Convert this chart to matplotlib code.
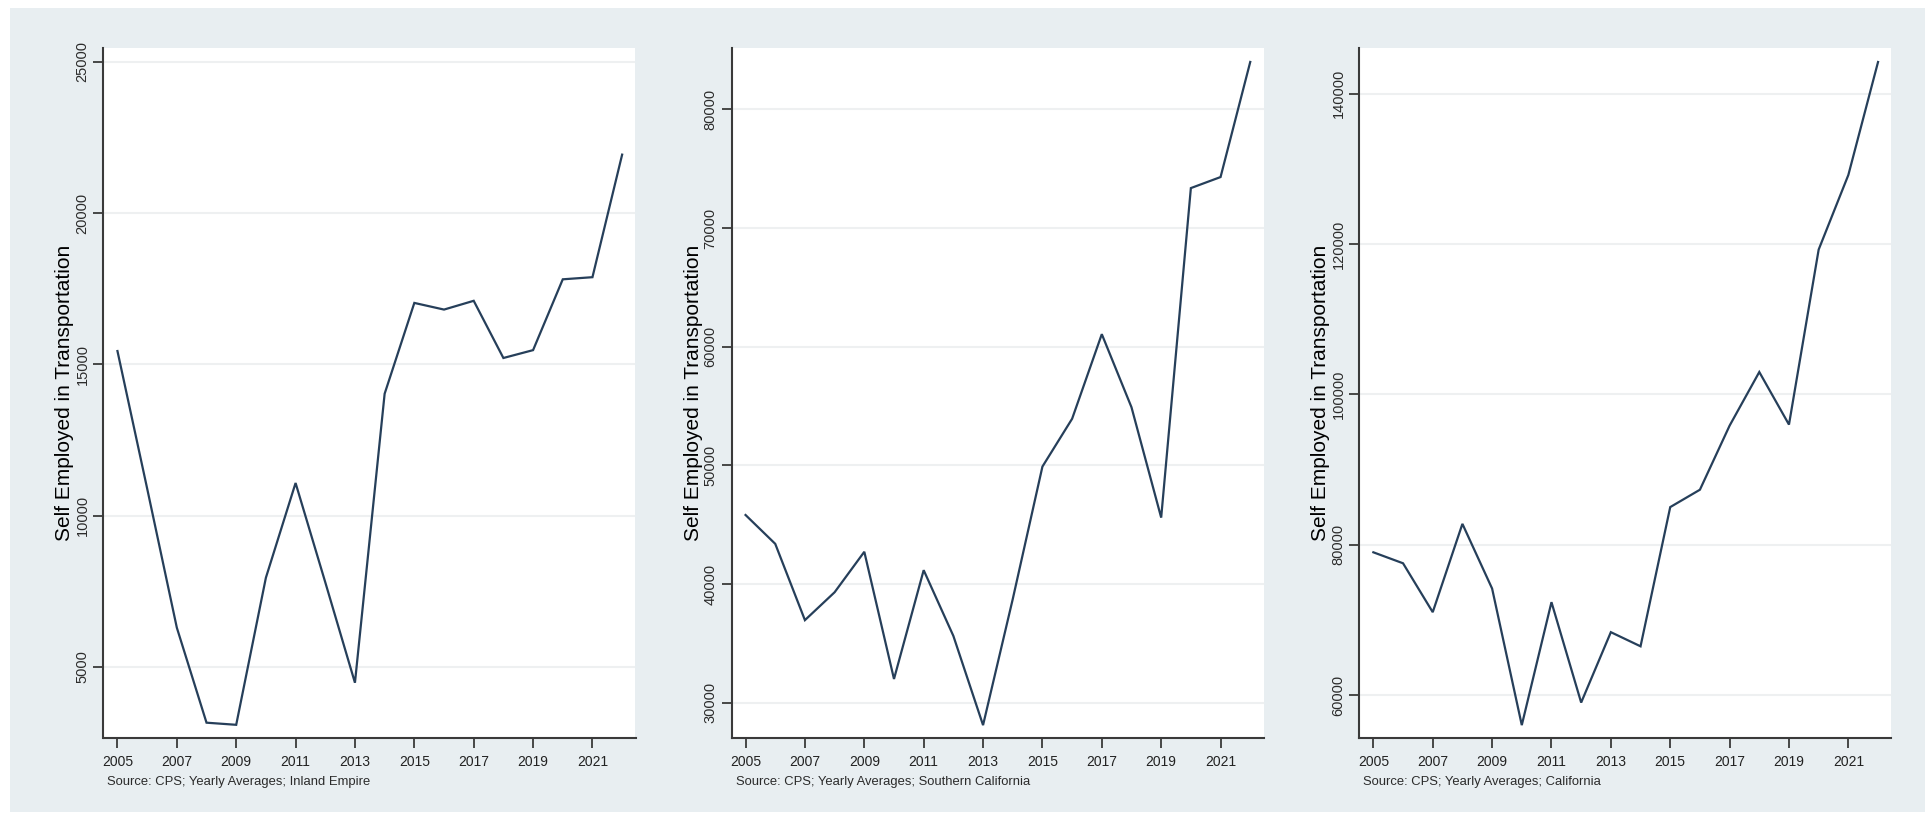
import matplotlib
matplotlib.use("Agg")
import matplotlib.pyplot as plt
from matplotlib.patches import Rectangle

years = list(range(2005, 2023))
x_ticks = [2005, 2007, 2009, 2011, 2013, 2015, 2017, 2019, 2021]

inland_empire = [15440, 10900, 6300, 3160, 3090, 7950, 11080, 7800, 4480, 14030,
                 17030, 16810, 17100, 15210, 15470, 17810, 17880, 21930]
southern_ca = [45810, 43380, 36950, 39300, 42710, 31990, 41160, 35620, 28100, 38720,
               49890, 53920, 61050, 54890, 45590, 73360, 74290, 83990]
california = [79000, 77540, 71040, 82780, 74180, 56020, 72370, 59020, 68380, 66500,
              85010, 87320, 95840, 102970, 95980, 119250, 129170, 144190]

regions = ["Inland Empire", "Southern California", "California"]
series = [inland_empire, southern_ca, california]
y_ticks = [[5000, 10000, 15000, 20000, 25000],
           [30000, 40000, 50000, 60000, 70000, 80000],
           [60000, 80000, 100000, 120000, 140000]]
y_limits = [(2654, 25453), (27017, 85166), (54309, 146051)]

W, H = 1933, 824
bg = "#E8EEF1"
line_color = "#263f5a"
axis_color = "#3a3a3a"

fig = plt.figure(figsize=(W / 100, H / 100), dpi=100, facecolor="white")
fig.patches.append(Rectangle((10 / W, 12 / H), 1915 / W, 804 / H, transform=fig.transFigure,
                             facecolor=bg, edgecolor="none", zorder=-10))

lefts = [103.5, 731.6, 1359.4]
ax_w = 532
top, bottom = 48, 738

for left, region, values, ticks, lims in zip(lefts, regions, series, y_ticks, y_limits):
    ax = fig.add_axes([left / W, (H - bottom) / H, ax_w / W, (bottom - top) / H])
    ax.set_facecolor("white")
    ax.plot(years, values, color=line_color, linewidth=1.6, solid_joinstyle="miter")
    ax.set_xlim(2004.53, 2022.45)
    ax.set_ylim(*lims)
    ax.set_xticks(x_ticks)
    ax.set_yticks(ticks)
    ax.grid(axis="y", color="#EEF0F1", linewidth=1.5)
    ax.set_axisbelow(True)
    for side in ["top", "right"]:
        ax.spines[side].set_visible(False)
    for side in ["left", "bottom"]:
        ax.spines[side].set_color(axis_color)
        ax.spines[side].set_linewidth(1.5)
    ax.tick_params(axis="both", direction="out", length=7, width=1.3, color=axis_color)
    ax.tick_params(axis="x", labelsize=10, labelcolor="#222222", pad=5)
    ax.tick_params(axis="y", labelsize=10.5, labelcolor="#2b2b2b", pad=3)
    for lbl in ax.get_xticklabels():
        lbl.set_family(["Liberation Sans", "DejaVu Sans"])
    for lbl in ax.get_yticklabels():
        lbl.set_family(["Liberation Sans Narrow", "Liberation Sans", "DejaVu Sans"])
        lbl.set_rotation(90)
        lbl.set_va("center")
    ax.set_ylabel("Self Employed in Transportation", fontsize=15, color="black",
                  family=["Liberation Sans", "DejaVu Sans"])
    ax.yaxis.set_label_coords(-29 / ax_w, 0.5)
    fig.text((left + 4) / W, (H - 785) / H, "Source: CPS; Yearly Averages; " + region,
             fontsize=9.4, color="#2b2b2b", ha="left", va="baseline",
             family=["Liberation Sans", "DejaVu Sans"])

fig.savefig("out.png", dpi=100, facecolor="white")
